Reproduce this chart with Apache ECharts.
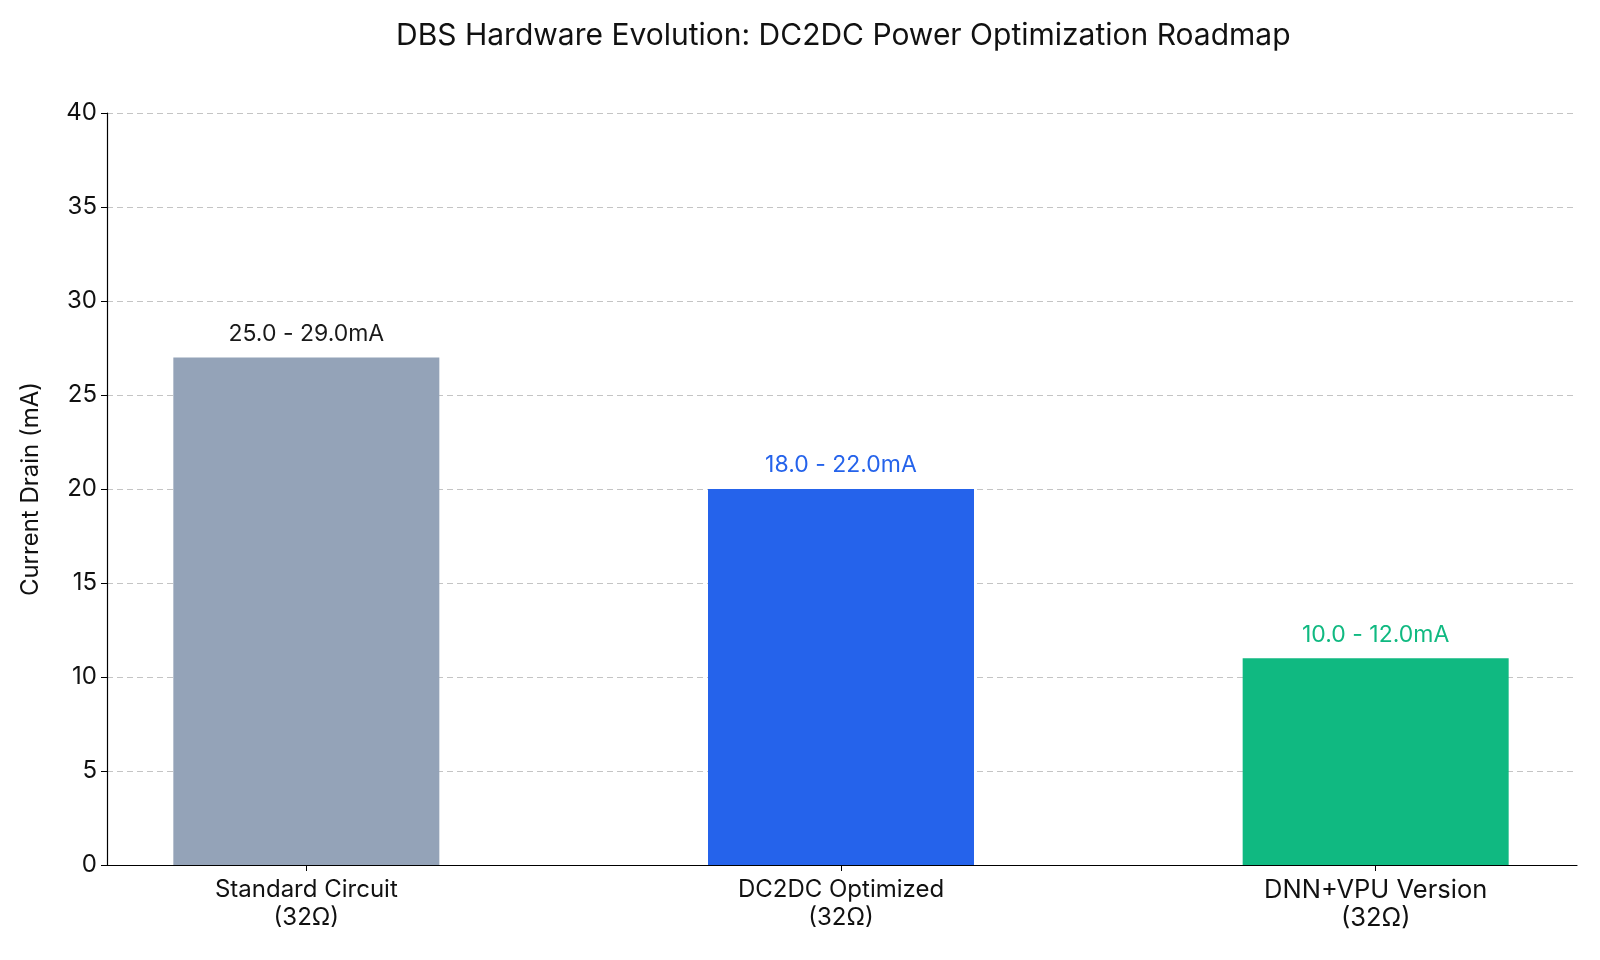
<!DOCTYPE html>
<html>
<head>
<meta charset="utf-8">
<script src="https://cdn.jsdelivr.net/npm/echarts@6/dist/echarts.min.js"></script>
<style>
  html, body { margin: 0; padding: 0; background: #fff; }
  #chart { width: 1600px; height: 960px; }
</style>
</head>
<body>
<div id="chart"></div>
<script>
const categories = ['Standard Circuit\n(32Ω)', 'DC2DC Optimized\n(32Ω)', 'DNN+VPU Version\n(32Ω)'];
const drainValues = [27, 20, 11];
const rangeLabels = ['25.0 - 29.0mA', '18.0 - 22.0mA', '10.0 - 12.0mA'];
const barColors = ['#94a3b8', '#2563eb', '#10b981'];
const labelColors = ['#1a1a1a', '#2563eb', '#10b981'];

const font = 'Inter, "Noto Sans", sans-serif';
const chart = echarts.init(document.getElementById('chart'));

chart.setOption({
  animation: false,
  title: {
    text: 'DBS Hardware Evolution: DC2DC Power Optimization Roadmap',
    // placed so it sits centred over the plot area, not the whole canvas
    left: 391,
    top: 16,
    textStyle: { fontFamily: font, fontSize: 30, fontWeight: 'normal', color: '#111' },
  },
  grid: [
    { left: 107, right: 23, top: 113, bottom: 95, outerBoundsMode: 'none' },
    // bar grid, spans wider so the category bands match the reference spacing
    { left: 39, width: 1604, top: 113, bottom: 95, outerBoundsMode: 'none' },
  ],
  xAxis: [
    {
      gridIndex: 0,
      type: 'value',
      min: 0,
      max: 1,
      axisLine: { show: true, lineStyle: { color: '#000', width: 1.2 } },
      axisTick: { show: false },
      axisLabel: { show: false },
      splitLine: { show: false },
    },
    {
      gridIndex: 1,
      type: 'category',
      data: categories.map((c, i) => (i === 2 ? { value: c, textStyle: { fontSize: 25.5 } } : c)),
      axisLine: { show: false },
      axisTick: { show: true, alignWithLabel: true, length: 6, lineStyle: { color: '#000' } },
      axisLabel: { fontFamily: font, fontSize: 24, color: '#111', lineHeight: 28, margin: 11 },
    },
  ],
  yAxis: [
    {
      gridIndex: 0,
      type: 'value',
      min: 0,
      max: 40,
      interval: 5,
      name: 'Current Drain (mA)',
      nameLocation: 'middle',
      nameGap: 64,
      nameTextStyle: { fontFamily: font, fontSize: 24, color: '#111' },
      axisLine: { show: true, lineStyle: { color: '#000', width: 1.2 } },
      axisTick: { show: true, length: 6, lineStyle: { color: '#000' } },
      axisLabel: { fontFamily: font, fontSize: 24, color: '#111', margin: 10 },
      splitLine: { show: true, lineStyle: { color: '#c4c4c4', type: [6, 4], width: 1 } },
    },
    {
      gridIndex: 1,
      type: 'value',
      min: 0,
      max: 40,
      show: false,
    },
  ],
  series: [
    {
      type: 'bar',
      xAxisIndex: 1,
      yAxisIndex: 1,
      barWidth: 266,
      data: drainValues.map((v, i) => ({
        value: v,
        itemStyle: { color: barColors[i] },
        label: { color: labelColors[i] },
      })),
      label: {
        show: true,
        position: 'top',
        distance: 12,
        fontFamily: font,
        fontSize: 23,
        formatter: (p) => rangeLabels[p.dataIndex],
      },
    },
  ],
});
</script>
</body>
</html>
